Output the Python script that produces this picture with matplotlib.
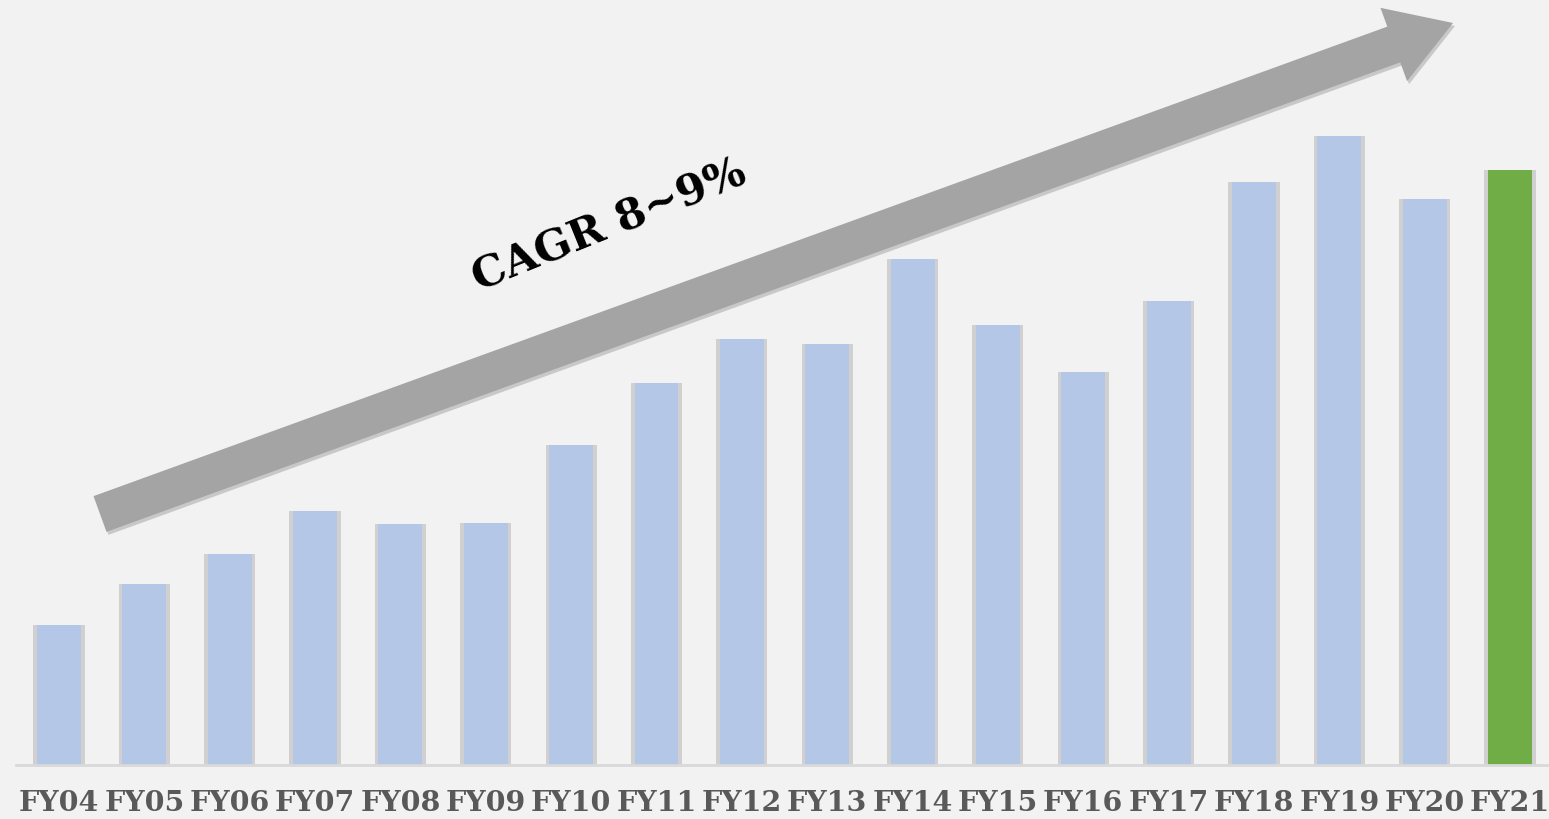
import numpy as np
import matplotlib

matplotlib.use("Agg")
import matplotlib.pyplot as plt
from matplotlib.patches import Polygon
from matplotlib.transforms import IdentityTransform

# ------------------------------------------------------------
# Data (relative heights)
# ------------------------------------------------------------
years = ["FY04", "FY05", "FY06", "FY07", "FY08", "FY09", "FY10", "FY11", "FY12",
         "FY13", "FY14", "FY15", "FY16", "FY17", "FY18", "FY19", "FY20", "FY21"]
values = [140, 181, 211, 254, 241, 242, 320, 382, 426,
          421, 506, 440, 393, 464, 583, 629, 566, 595]
bar_colors = ["#b4c7e7"] * 17 + ["#70ad47"]
cagr_label = "CAGR 8~9%"

BG = "#f2f2f2"
W, H = 1549, 819

fig = plt.figure(figsize=(W / 100, H / 100), dpi=100, facecolor=BG)
ax = fig.add_axes([16 / W, 54 / H, 1533 / W, 765 / H])
ax.set_facecolor(BG)

x = np.arange(len(years))
# soft shadow behind each bar
ax.bar(x, values, width=0.60, color="#d0d0d0", zorder=1)
ax.bar(x, values, width=0.515, color=bar_colors, zorder=2)

ax.set_xlim(-0.504, 17.457)
ax.set_ylim(0, 765)
ax.set_xticks(x)
ax.set_xticklabels(years, fontsize=20.5, fontweight="bold", family="DejaVu Serif",
                   color="#595959")
ax.tick_params(axis="x", length=0, pad=18)
ax.set_yticks([])
for side in ["top", "right", "left"]:
    ax.spines[side].set_visible(False)
ax.spines["bottom"].set_color("#d9d9d9")
ax.spines["bottom"].set_linewidth(2)
ax.spines["bottom"].set_zorder(3)

# ------------------------------------------------------------
# Trend arrow, drawn in pixel space (image coords, y down)
# ------------------------------------------------------------
tail = np.array([100.0, 514.0])
tip = np.array([1453.0, 23.0])
d = tip - tail
L = np.hypot(*d)
u = d / L
n = np.array([u[1], -u[0]])  # perpendicular
shaft_w, head_w, head_len = 38, 78, 63
base = tip - u * head_len
pts_img = [
    tail + n * shaft_w / 2,
    base + n * shaft_w / 2,
    base + n * head_w / 2,
    tip,
    base - n * head_w / 2,
    base - n * shaft_w / 2,
    tail - n * shaft_w / 2,
]
pts = np.array([[p[0], H - p[1]] for p in pts_img])
shadow = Polygon(pts + np.array([2, -3]), closed=True, facecolor="#c8c8c8",
                 edgecolor="none", transform=IdentityTransform(), zorder=4)
arrow = Polygon(pts, closed=True, facecolor="#a4a4a4", edgecolor="none",
                transform=IdentityTransform(), zorder=5)
fig.patches.extend([shadow, arrow])

fig.text(609 / W, 1 - 226 / H, cagr_label, fontsize=31, fontweight="bold",
         family="DejaVu Serif", color="black", rotation=22,
         ha="center", va="center", rotation_mode="anchor")

fig.savefig("out.png", dpi=100, facecolor=BG)
